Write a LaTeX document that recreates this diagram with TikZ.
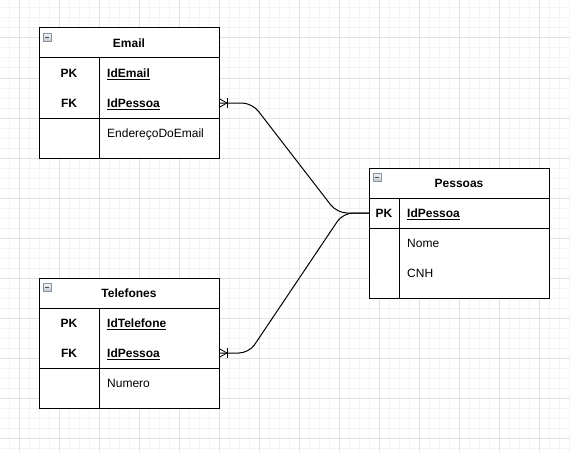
\documentclass[tikz,border=0pt]{standalone}
\usepackage{fontspec}
\setmainfont{Liberation Sans}
\usetikzlibrary{positioning}

\definecolor{gridmajor}{HTML}{E2E2E2}
\definecolor{gridminor}{HTML}{F4F4F4}
\definecolor{iconline}{HTML}{8A929C}
\definecolor{icontop}{HTML}{F4F6F8}
\definecolor{iconbot}{HTML}{C4CAD2}
\tikzstyle{tbl} = [draw, line width=1pt, inner sep=0pt, minimum width=180pt]
\tikzstyle{txt} = [inner sep=0pt, text height=10.9pt, text depth=2.5pt, font=\fontsize{12pt}{14pt}\selectfont]

\newcommand{\keyfield}[1]{\underline{#1}}

\begin{document}
\begin{tikzpicture}[x=1pt, y=-1pt,
		title/.style={txt, font=\fontsize{12pt}{14pt}\selectfont\bfseries},
		key/.style={txt, font=\fontsize{12pt}{14pt}\selectfont\bfseries},
		field/.style={txt, anchor=west},
		keyf/.style={txt, anchor=west, font=\fontsize{12pt}{14pt}\selectfont\bfseries},
		sep/.style={line width=1pt},
		rel/.style={draw, line width=1pt, rounded corners=10pt},
		foot/.style={line width=0.8pt}]
		% background and grid
		\fill[white] (0,0) rectangle (570,452);
		\useasboundingbox (0,0) rectangle (570,452);
		\foreach \x in {9,19,...,569} \draw[gridminor, line width=1pt] (\x,0) -- (\x,452);
		\foreach \y in {8,18,...,448} \draw[gridminor, line width=1pt] (0,\y) -- (570,\y);
		\foreach \x in {19,59,...,569} \draw[gridmajor, line width=1pt] (\x,0) -- (\x,452);
		\foreach \y in {38,78,...,448} \draw[gridmajor, line width=1pt] (0,\y) -- (570,\y);

		% Email
		\node (email) [tbl, fill=white, minimum height=130pt] at (129,93) {};
		\draw[sep] (39,58) -- (219,58);
		\draw[sep] (39,118) -- (219,118);
		\draw[sep] (99,58) -- (99,158);
		\node (emailT) [title] at (129,43) {Email};
		\node (emailPK) [key] at (69,73) {PK};
		\node (emailFK) [key] at (69,103) {FK};
		\node (emailId) [keyf] at (107,73) {\keyfield{IdEmail}};
		\node (emailPs) [keyf] at (107,103) {\keyfield{IdPessoa}};
		\node (emailEnd) [field] at (107,133) {EndereçoDoEmail};
		\coordinate (emailIcon) at (43,33);

		% Pessoas
		\node (pessoas) [tbl, fill=white, minimum height=130pt] at (459,233) {};
		\draw[sep] (369,198) -- (549,198);
		\draw[sep] (369,228) -- (549,228);
		\draw[sep] (399,198) -- (399,298);
		\node (pessoasT) [title] at (459,183) {Pessoas};
		\node (pessoasPK) [key] at (384,213) {PK};
		\node (pessoasId) [keyf] at (407,213) {\keyfield{IdPessoa}};
		\node (pessoasNome) [field] at (407,243) {Nome};
		\node (pessoasCnh) [field] at (407,273) {CNH};
		\coordinate (pessoasIcon) at (373,173);

		% Telefones
		\node (tel) [tbl, fill=white, minimum height=130pt] at (129,343) {};
		\draw[sep] (39,308) -- (219,308);
		\draw[sep] (39,368) -- (219,368);
		\draw[sep] (99,308) -- (99,408);
		\node (telT) [title] at (129,293) {Telefones};
		\node (telPK) [key] at (69,323) {PK};
		\node (telFK) [key] at (69,353) {FK};
		\node (telId) [keyf] at (107,323) {\keyfield{IdTelefone}};
		\node (telPs) [keyf] at (107,353) {\keyfield{IdPessoa}};
		\node (telNum) [field] at (107,383) {Numero};
		\coordinate (telIcon) at (43,283);

		% collapse icons
		\foreach \c in {emailIcon, pessoasIcon, telIcon} {
			\draw[iconline, line width=0.8pt, top color=icontop, bottom color=iconbot] (\c) rectangle ++(8,8);
			\draw[black!70, line width=1pt] (\c) ++(2,4.5) -- ++(4,0);
		}

		% relations
		\coordinate (emailLink) at (219,103);
		\coordinate (telLink) at (219,353);
		\coordinate (pessoasLink) at (369,213);
		\draw[rel] (emailLink) -- (252,103) -- (337,213) -- (pessoasLink);
		\draw[rel] (telLink) -- (249,353) -- (343,213) -- (pessoasLink);
		\foreach \c in {emailLink, telLink} {
			\draw[foot] (\c) ++(0,-4.5) -- ++(8,4.5) -- ++(-8,4.5);
			\draw[foot] (\c) ++(8,-5) -- ++(0,10);
		}
\end{tikzpicture}
\end{document}
